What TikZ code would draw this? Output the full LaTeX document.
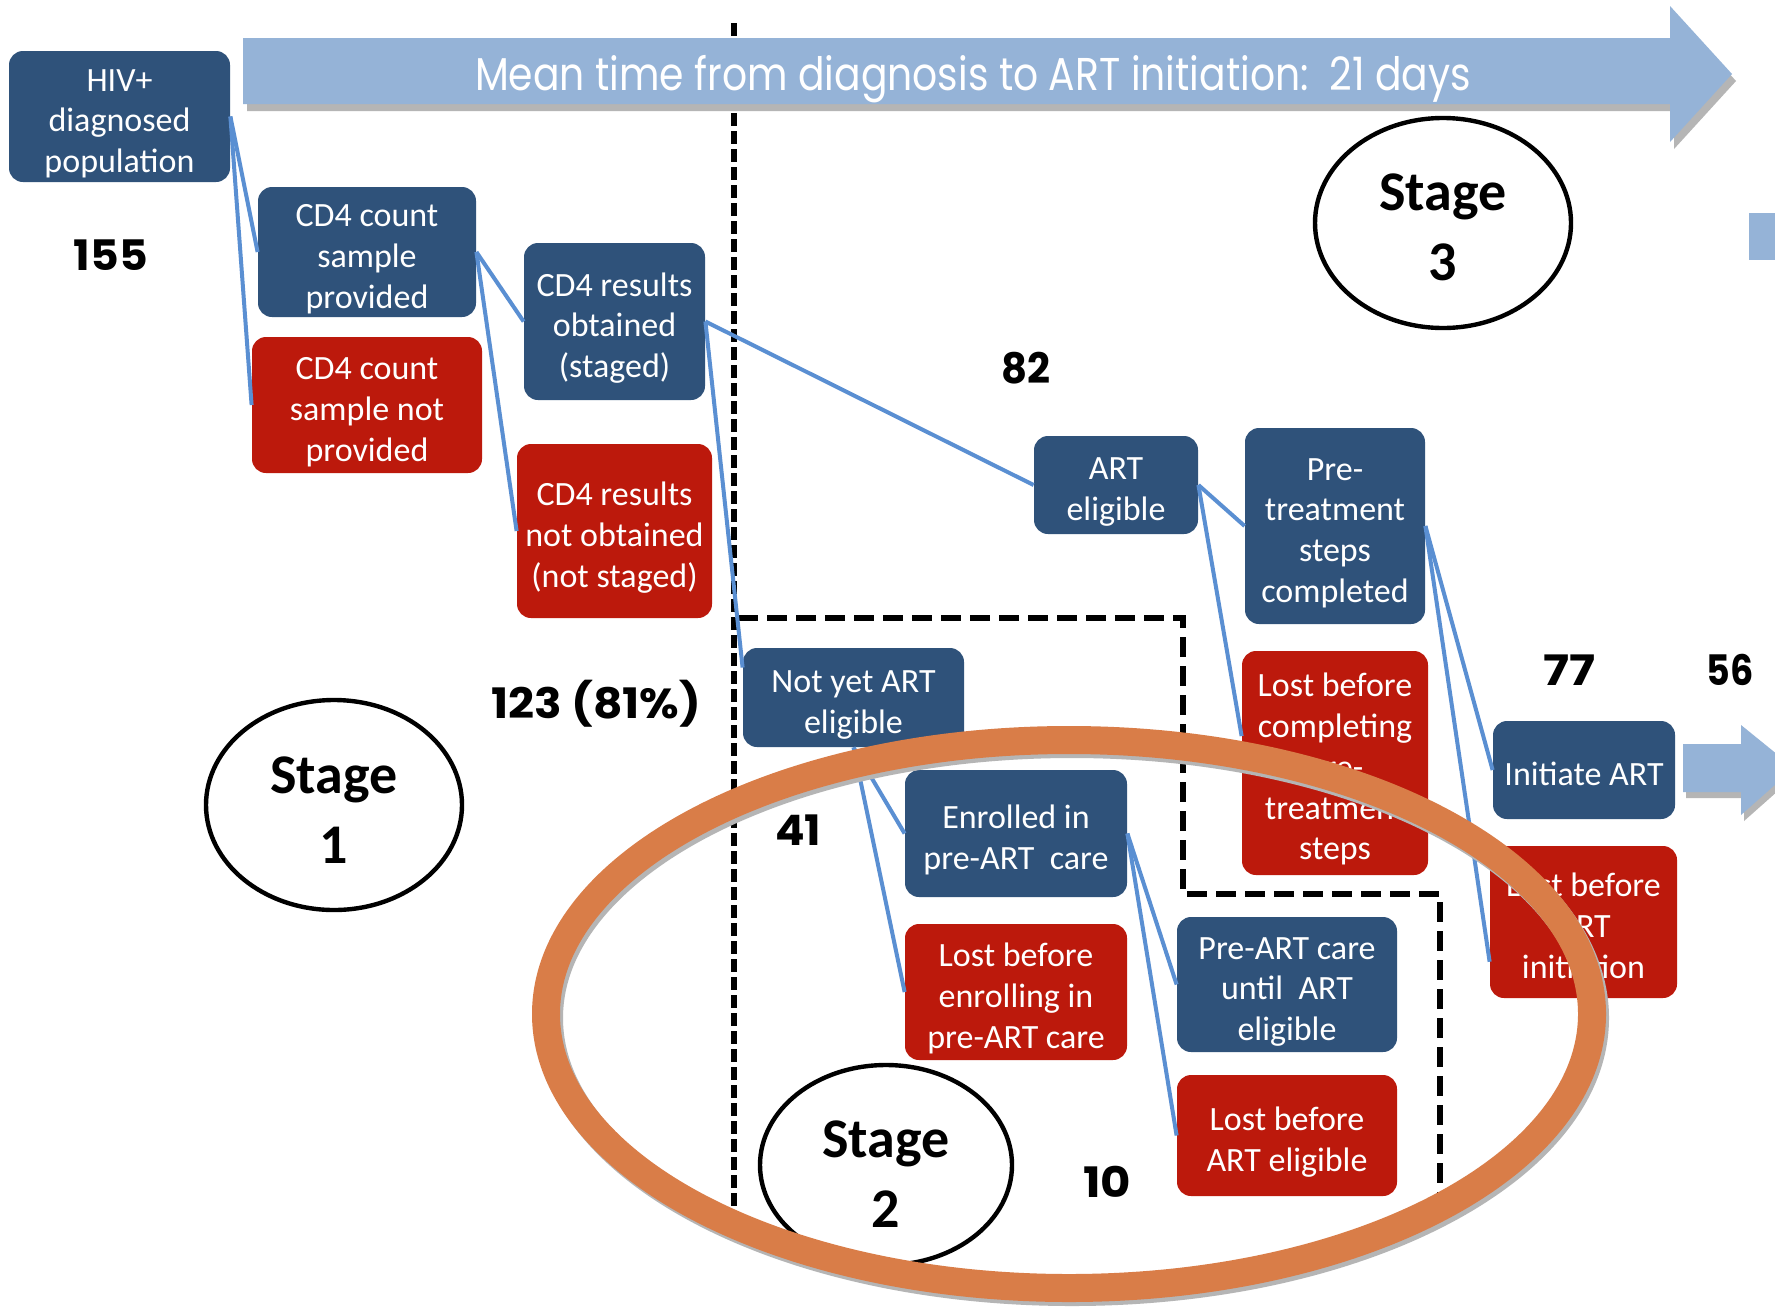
\documentclass[tikz,border=0pt]{standalone}
\usepackage{fontspec}
\usepackage{graphicx}
\setmainfont{Carlito}
\newfontfamily\numfont{Poppins}
\newfontfamily\arrfont{Poppins}
\usetikzlibrary{calc,shapes.geometric}
\definecolor{dblue}{HTML}{2F527A}
\definecolor{dred}{HTML}{BC190C}
\definecolor{lblue}{HTML}{95B3D7}
\definecolor{conn}{HTML}{5A8FD2}
\definecolor{orng}{HTML}{D97D48}
\definecolor{shad}{HTML}{B5B5B5}
\newcommand\mkbox[7]{%
  \pgfmathsetmacro\bxcx{(#2+#4)/2}%
  \pgfmathsetmacro\bxcy{(#3+#5)/2}%
  \pgfmathsetmacro\bxw{(#4-#2)*0.5}%
  \pgfmathsetmacro\bxh{(#5-#3)*0.5}%
  \node[#6, minimum width=\bxw pt, minimum height=\bxh pt] (#1) at (\bxcx,\bxcy)
    {\raisebox{-3.6pt}[\height][\depth]{\begin{tabular}{@{}c@{}}#7\end{tabular}}};}
\newcommand\stagetxt[2]{\raisebox{-#1pt}[\height][\depth]{\begin{tabular}{@{}c@{}}Stage\\#2\end{tabular}}}
\tikzset{
  box/.style={rounded corners=7pt, text=white, align=center, inner sep=0pt,
    font=\fontsize{17}{20.4}\selectfont},
  bluebox/.style={box, fill=dblue},
  redbox/.style={box, fill=dred},
  conline/.style={draw=conn, line width=2pt},
  stagecirc/.style={draw=black, ellipse, line width=2.2pt, inner sep=0pt, align=center,
    font=\bfseries\fontsize{28}{35}\selectfont},
  num/.style={font=\numfont\bfseries\fontsize{21}{21}\selectfont, inner sep=0pt, anchor=base},
  vdash/.style={draw=black, line width=3pt, dash pattern=on 6.5pt off 2.5pt},
  boxdash/.style={draw=black, line width=2.8pt, dash pattern=on 10pt off 4.5pt},
}
\begin{document}
\begin{tikzpicture}[x=0.5pt,y=-0.5pt]
\useasboundingbox (0,0) rectangle (1775,1307);
\fill[white] (0,0) rectangle (1775,1307);
\clip (0,0) rectangle (1775,1307);

% vertical dashed line (behind the arrow)
\draw[vdash] (734,23) -- (734,1235);

% big arrow with shadow
\fill[shad] (247,45) -- (1674,45) -- (1674,13) -- (1736,81) -- (1674,149) -- (1674,111) -- (247,111) -- cycle;
\fill[lblue] (243,38) -- (1670,38) -- (1670,6) -- (1732,74) -- (1670,142) -- (1670,104) -- (243,104) -- cycle;
\node[font=\arrfont\fontsize{23}{23}\selectfont, text=white, inner sep=0pt, anchor=base] (arrtxt) at (973,90)
  {\resizebox{498pt}{\height}{Mean time from diagnosis to ART initiation:\ \ 21 days}};

% small blue piece top right
\fill[lblue] (1749,213) rectangle (1775,260);

% right arrow after Initiate ART
\fill[shad] (1686,750) -- (1744,750) -- (1744,731) -- (1797,774) -- (1744,821) -- (1744,798) -- (1686,798) -- cycle;
\fill[lblue] (1683,744) -- (1741,744) -- (1741,725) -- (1794,768) -- (1741,815) -- (1741,792) -- (1683,792) -- cycle;

% stage 2 dashed box
\draw[boxdash] (738,618) -- (1183,618) -- (1183,894) -- (1440,894) -- (1440,1194);

% boxes
\mkbox{hiv}{9}{51}{230}{182}{bluebox}{HIV+\\diagnosed\\population}
\mkbox{cdp}{258}{187}{476}{317}{bluebox}{CD4 count\\sample\\provided}
\mkbox{cdnp}{252}{337}{482}{473}{redbox}{CD4 count\\sample not\\provided}
\mkbox{cro}{524}{243}{705}{400}{bluebox}{CD4 results\\obtained\\(staged)}
\mkbox{crno}{517}{444}{712}{618}{redbox}{CD4 results\\not obtained\\(not staged)}
\mkbox{arte}{1034}{436}{1198}{534}{bluebox}{ART\\eligible}
\mkbox{pts}{1245}{428}{1425}{624}{bluebox}{Pre-\\treatment\\steps\\completed}
\mkbox{lbc}{1242}{651}{1428}{875}{redbox}{Lost before\\completing\\pre-\\treatment\\steps}
\mkbox{ini}{1493}{721}{1675}{819}{bluebox}{Initiate ART}
\mkbox{lbi}{1490}{846}{1677}{998}{redbox}{Lost before\\ART\\initiation}
\mkbox{nye}{743}{648}{964}{747}{bluebox}{Not yet ART\\eligible}
\mkbox{enr}{905}{770}{1127}{897}{bluebox}{Enrolled in\\pre-ART~~care}
\mkbox{lbe}{905}{924}{1127}{1060}{redbox}{Lost before\\enrolling in\\pre-ART care}
\mkbox{pac}{1177}{917}{1397}{1052}{bluebox}{Pre-ART care\\until~~ART\\eligible}
\mkbox{lbae}{1177}{1075}{1397}{1196}{redbox}{Lost before\\ART eligible}

% connectors
\draw[conline] (hiv.east) -- (cdp.west);
\draw[conline] (hiv.east) -- (cdnp.west);
\draw[conline] (cdp.east) -- (cro.west);
\draw[conline] (cdp.east) -- (crno.west);
\draw[conline] (cro.east) -- (arte.west);
\draw[conline] (cro.east) -- ($(nye.north west)!0.2!(nye.south west)$);
\draw[conline] (arte.east) -- (pts.west);
\draw[conline] (arte.east) -- ($(lbc.north west)!0.38!(lbc.south west)$);
\draw[conline] (pts.east) -- (ini.west);
\draw[conline] (pts.east) -- ($(lbi.north west)!0.76!(lbi.south west)$);
\draw[conline] (nye.south) -- (enr.west);
\draw[conline] (nye.south) -- (lbe.west);
\draw[conline] (enr.east) -- (pac.west);
\draw[conline] (enr.east) -- (lbae.west);

% stage circles
\node[stagecirc, minimum width=128pt, minimum height=105pt] (st1) at (334,805) {\stagetxt{4.7}{1}};
\node[stagecirc, minimum width=126pt, minimum height=100pt] (st2) at (886,1165) {\stagetxt{6.9}{2}};
\node[stagecirc, minimum width=128pt, minimum height=105pt] (st3) at (1443,223) {\stagetxt{4.2}{3}};

% numbers
\node[num] (n155) at (111,270) {\resizebox{37pt}{\height}{155}};
\node[num] (n82) at (1026,383) {\resizebox{24.5pt}{\height}{82}};
\node[num] (n123) at (596,718) {\resizebox{105pt}{\height}{123 (81\%)}};
\node[num] (n41) at (798,845) {\resizebox{23pt}{\height}{41}};
\node[num] (n77) at (1569,685) {\resizebox{26pt}{\height}{77}};
\node[num] (n56) at (1730,685) {\resizebox{23.5pt}{\height}{56}};
\node[num] (n10) at (1107,1197) {\resizebox{24pt}{\height}{10}};

% orange ring with shadow
\draw[shad, line width=14pt] (1072,1018) ellipse [x radius=261.5pt, y radius=137pt];
\draw[orng, line width=14pt] (1069,1014) ellipse [x radius=261.5pt, y radius=137pt];
\end{tikzpicture}
\end{document}
